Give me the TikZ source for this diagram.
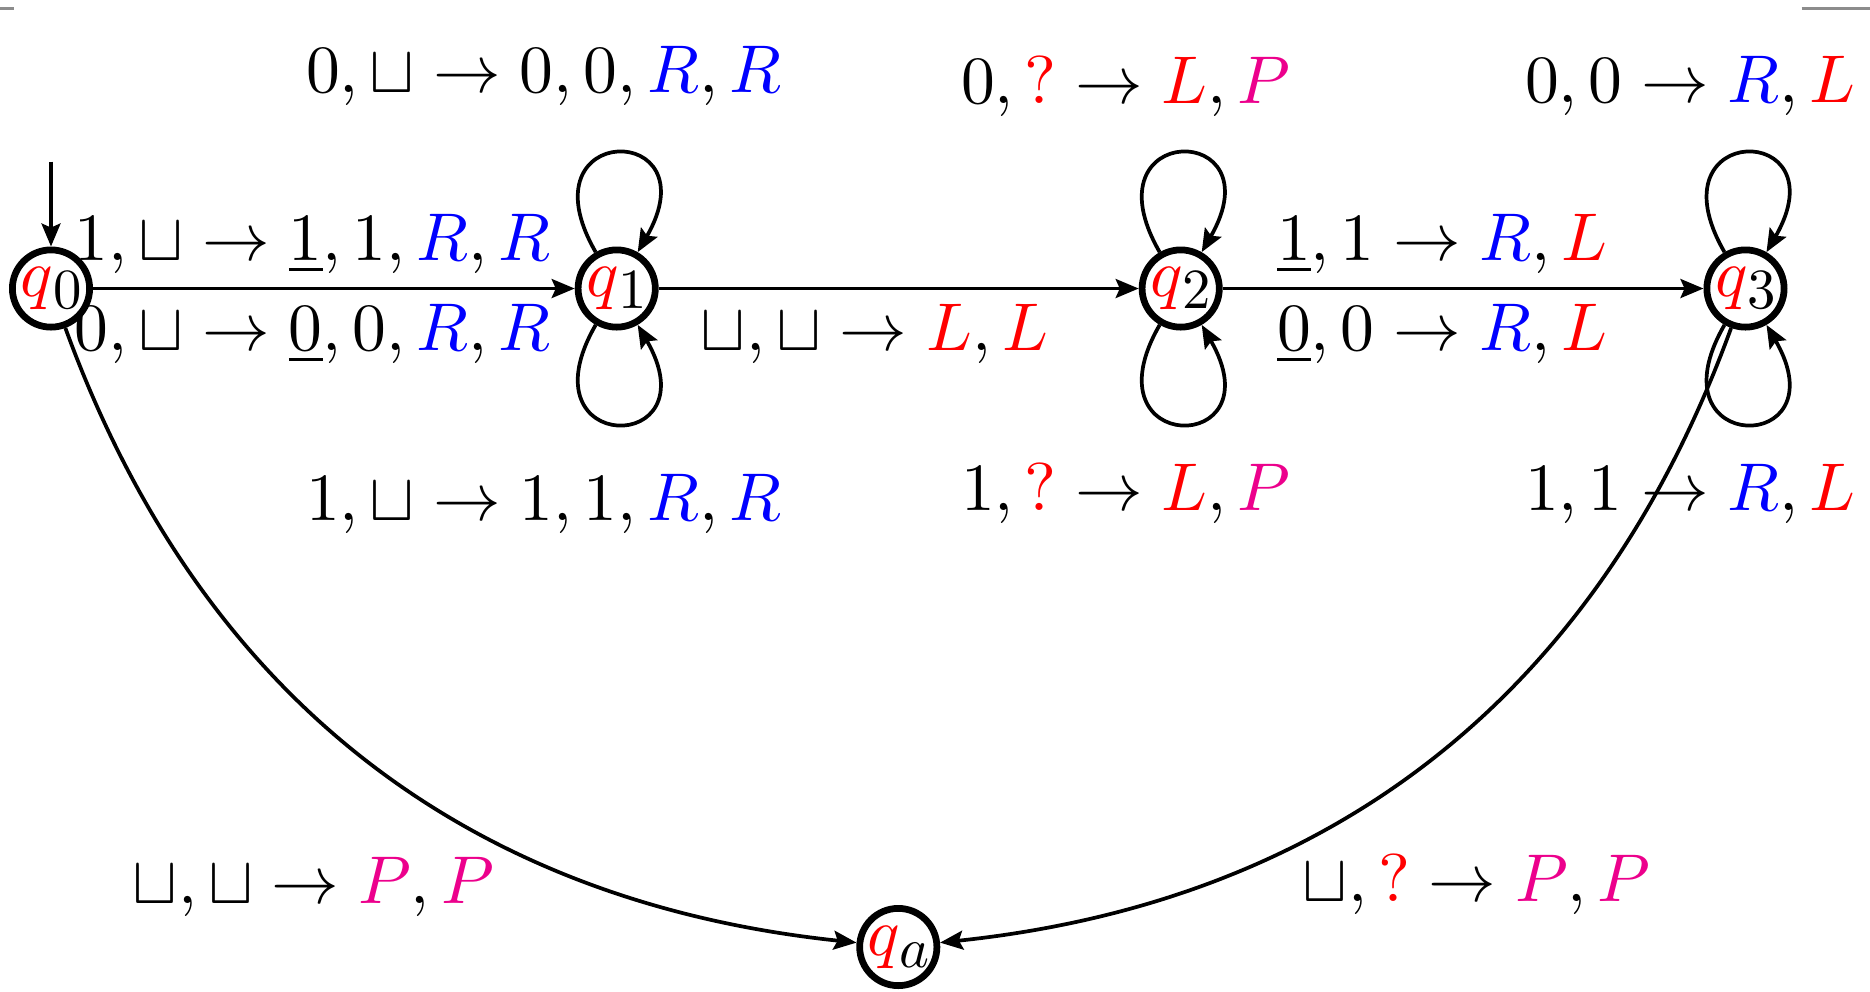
\documentclass[tikz,border=0pt]{standalone}
\usetikzlibrary{arrows.meta}
\usepackage{graphicx}
\definecolor{pinkP}{RGB}{236,0,140}
\definecolor{frameGray}{RGB}{140,140,140}
\newcommand{\qsub}[1]{$\textcolor{red}{q}$\raisebox{-1.8pt}{\scalebox{0.84}{$#1$}}}
\newcommand{\Rb}{{\color{blue}R}}
\newcommand{\Lr}{{\color{red}L}}
\newcommand{\Pp}{{\color{pinkP}P}}
\newcommand{\Qr}{{\color{red}?}}
\begin{document}
\begin{tikzpicture}[x=0.148pt,y=0.148pt,
  state/.style={circle,draw,line width=1pt,inner sep=0pt,minimum size=11.43pt},
  edge/.style={line width=0.55pt,-{Stealth[length=3.4pt,width=2.8pt,inset=0.6pt]}},
  lab/.style={anchor=base west,inner sep=0pt,outer sep=0pt}]
\useasboundingbox (0,0) rectangle (1870,991);
% frame remnants
\draw[frameGray,line width=0.4pt] (0,982.3) -- (14,982.3);
\draw[frameGray,line width=0.4pt] (1801.7,982.3) -- (1870,982.3);
% states
\node[state] (q0) at (51,702.5) {\qsub{0}};
\node[state] (q1) at (616.7,702.5) {\qsub{1}};
\node[state] (q2) at (1180.7,702.5) {\qsub{2}};
\node[state] (q3) at (1745.5,702.5) {\qsub{3}};
\node[state] (qa) at (898.3,44) {\qsub{a}};
\coordinate (init) at (51,829.5);
% edges
\draw[edge] (init) -- (q0);
\draw[edge] (q0) -- (q1);
\draw[edge] (q1) -- (q2);
\draw[edge] (q2) -- (q3);
\draw[edge] (q0) to[out=-70,in=174] (qa);
\draw[edge] (q3) to[out=250,in=6] (qa);
% loops
\draw[edge] (q1.120) .. controls +(120:152) and +(60:152) .. (q1.60);
\draw[edge] (q1.240) .. controls +(240:152) and +(300:152) .. (q1.300);
\draw[edge] (q2.120) .. controls +(120:152) and +(60:152) .. (q2.60);
\draw[edge] (q2.240) .. controls +(240:152) and +(300:152) .. (q2.300);
\draw[edge] (q3.120) .. controls +(120:152) and +(60:152) .. (q3.60);
\draw[edge] (q3.240) .. controls +(240:152) and +(300:152) .. (q3.300);
% labels
\node[lab] (l1) at (306,899) {$0,\sqcup\to 0,0,\Rb,\Rb$};
\node[lab] (l2) at (75,731) {$1,\sqcup\to \underline{1},1,\Rb,\Rb$};
\node[lab] (l3) at (75,641) {$0,\sqcup\to \underline{0},0,\Rb,\Rb$};
\node[lab] (l4) at (306,471) {$1,\sqcup\to 1,1,\Rb,\Rb$};
\node[lab] (l5) at (961,888) {$0,\Qr\to \Lr,\Pp$};
\node[lab] (l6) at (701,641) {$\sqcup,\sqcup\to \Lr,\Lr$};
\node[lab] (l7) at (961,481) {$1,\Qr\to \Lr,\Pp$};
\node[lab] (l8) at (1525,889) {$0,0\to \Rb,\Lr$};
\node[lab] (l9) at (1277,731) {$\underline{1},1\to \Rb,\Lr$};
\node[lab] (l10) at (1277,641) {$\underline{0},0\to \Rb,\Lr$};
\node[lab] (l11) at (1525,481) {$1,1\to \Rb,\Lr$};
\node[lab] (l12) at (133,88) {$\sqcup,\sqcup\to \Pp,\Pp$};
\node[lab] (l13) at (1303,90) {$\sqcup,\Qr\to \Pp,\Pp$};
\end{tikzpicture}
\end{document}
